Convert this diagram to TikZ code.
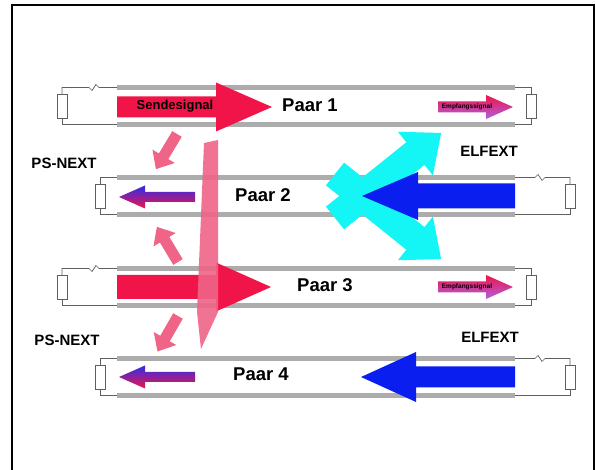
\documentclass[tikz,border=0pt]{standalone}
\usepackage{fontspec}
\setmainfont{Liberation Sans}
\definecolor{sendred}{RGB}{240,20,72}
\definecolor{nextpink}{RGB}{240,100,135}
\definecolor{fextcyan}{RGB}{20,245,245}
\definecolor{fextblue}{RGB}{10,30,240}
\definecolor{cablegray}{RGB}{172,172,172}
\definecolor{wiregray}{RGB}{95,95,95}
\definecolor{rxviolet}{RGB}{175,95,225}
\definecolor{txblue}{RGB}{45,45,235}
% fat arrow: style, placement, length, shaft half width, head half width, head length
\newcommand{\fatarrow}[6]{%
  \begin{scope}[#2]
    \path[#1] (0,-#4) -- ({#3-#6},-#4) -- ({#3-#6},-#5) -- (#3,0) -- ({#3-#6},#5) -- ({#3-#6},#4) -- (0,#4) -- cycle;
  \end{scope}}

\begin{document}
\begin{tikzpicture}[x=1pt,y=-1pt,
    cable/.style={draw=cablegray,line width=4.5pt},
    wire/.style={draw=wiregray,line width=0.7pt},
    resistor/.style={wire,fill=white},
    pairlabel/.style={font=\fontsize{18.5}{18.5}\selectfont\bfseries},
    xtlabel/.style={font=\fontsize{15}{15}\selectfont\bfseries},
    sigtext/.style={font=\fontsize{13}{13}\selectfont\bfseries},
    rxtext/.style={font=\fontsize{6.5}{6.5}\selectfont\bfseries}]
  \useasboundingbox (0,0) rectangle (595,470);
  \draw[line width=2pt] (12,5) rectangle (594,480);

  % pairs 1 and 3: noise source on the left
  \foreach \cy in {106,287} {
    \draw[cable] (117,{\cy-18.5}) -- (515,{\cy-18.5}) (117,{\cy+18.5}) -- (515,{\cy+18.5});
    \draw[wire] (117,{\cy-18.5}) -- (99,{\cy-18.5}) -- (96,{\cy-21.5}) -- (92,{\cy-15.5}) -- (89,{\cy-18.5}) -| (62,{\cy-12});
    \draw[wire] (117,{\cy+18.5}) -| (62,{\cy+12});
    \draw[wire] (515,{\cy-18.5}) -| (531,{\cy-12}) (515,{\cy+18.5}) -| (531,{\cy+12});
    \draw[resistor] (57,{\cy-12}) rectangle (67,{\cy+12});
    \draw[resistor] (526,{\cy-12}) rectangle (536,{\cy+12});
  }
  % pairs 2 and 4: noise source on the right
  \foreach \cy in {196,377} {
    \draw[cable] (117,{\cy-18.5}) -- (515,{\cy-18.5}) (117,{\cy+18.5}) -- (515,{\cy+18.5});
    \draw[wire] (515,{\cy-18.5}) -- (535,{\cy-18.5}) -- (538,{\cy-21.5}) -- (542,{\cy-15.5}) -- (545,{\cy-18.5}) -| (570,{\cy-12});
    \draw[wire] (515,{\cy+18.5}) -| (570,{\cy+12});
    \draw[wire] (117,{\cy-18.5}) -| (100,{\cy-12}) (117,{\cy+18.5}) -| (100,{\cy+12});
    \draw[resistor] (95,{\cy-12}) rectangle (105,{\cy+12});
    \draw[resistor] (565,{\cy-12}) rectangle (575,{\cy+12});
  }

  % send signals
  \fatarrow{fill=sendred}{shift={(117,107)}}{155}{10.5}{24.5}{56}
  \fatarrow{fill=sendred}{shift={(117,287)}}{154}{12}{24.5}{55}

  % near end crosstalk
  \path[fill=nextpink,opacity=.9] (204,143) -- (218,140) -- (218,312) -- (201,349) -- (197,312) -- cycle;
  \foreach \ax/\ay/\ang in {177/134/239,178/262/121,178/316/240} {
    \fatarrow{fill=nextpink}{shift={(\ax,\ay)},rotate=\ang}{41}{5.5}{13}{15}
  }

  % far end crosstalk
  \fatarrow{fill=fextcyan}{shift={(335,218)},rotate=38.7}{136}{14.5}{28}{33}
  \fatarrow{fill=fextcyan}{shift={(335,174)},rotate=-38.7}{136}{14.5}{28}{33}
  \fatarrow{fill=fextblue}{shift={(515,196)},xscale=-1}{153}{12.5}{24}{56}
  \fatarrow{fill=fextblue}{shift={(515,377)},xscale=-1}{154}{10.5}{25}{55}

  % received signals
  \fatarrow{top color=sendred,bottom color=rxviolet}{shift={(438,107)}}{75}{5.5}{12}{27}
  \fatarrow{top color=sendred,bottom color=rxviolet}{shift={(438,287)}}{75}{5.5}{12}{27}
  \fatarrow{top color=txblue,bottom color=sendred}{shift={(195,197)},xscale=-1}{76}{5}{11.5}{26}
  \fatarrow{top color=txblue,bottom color=sendred}{shift={(195,377)},xscale=-1}{76}{5}{11.5}{26}

  \node[sigtext] (send) at (175,106) {Sendesignal};
  \node[rxtext] (rx1) at (467,107) {Empfangssignal};
  \node[rxtext] (rx3) at (467,287) {Empfangssignal};
  \node[pairlabel] (paar1) at (310,105) {Paar 1};
  \node[pairlabel] (paar2) at (263,195) {Paar 2};
  \node[pairlabel] (paar3) at (325,285) {Paar 3};
  \node[pairlabel] (paar4) at (261,374) {Paar 4};
  \node[xtlabel] (next1) at (64,163) {PS-NEXT};
  \node[xtlabel] (next2) at (67,340) {PS-NEXT};
  \node[xtlabel] (fext1) at (489,151) {ELFEXT};
  \node[xtlabel] (fext2) at (490,337) {ELFEXT};
\end{tikzpicture}
\end{document}
